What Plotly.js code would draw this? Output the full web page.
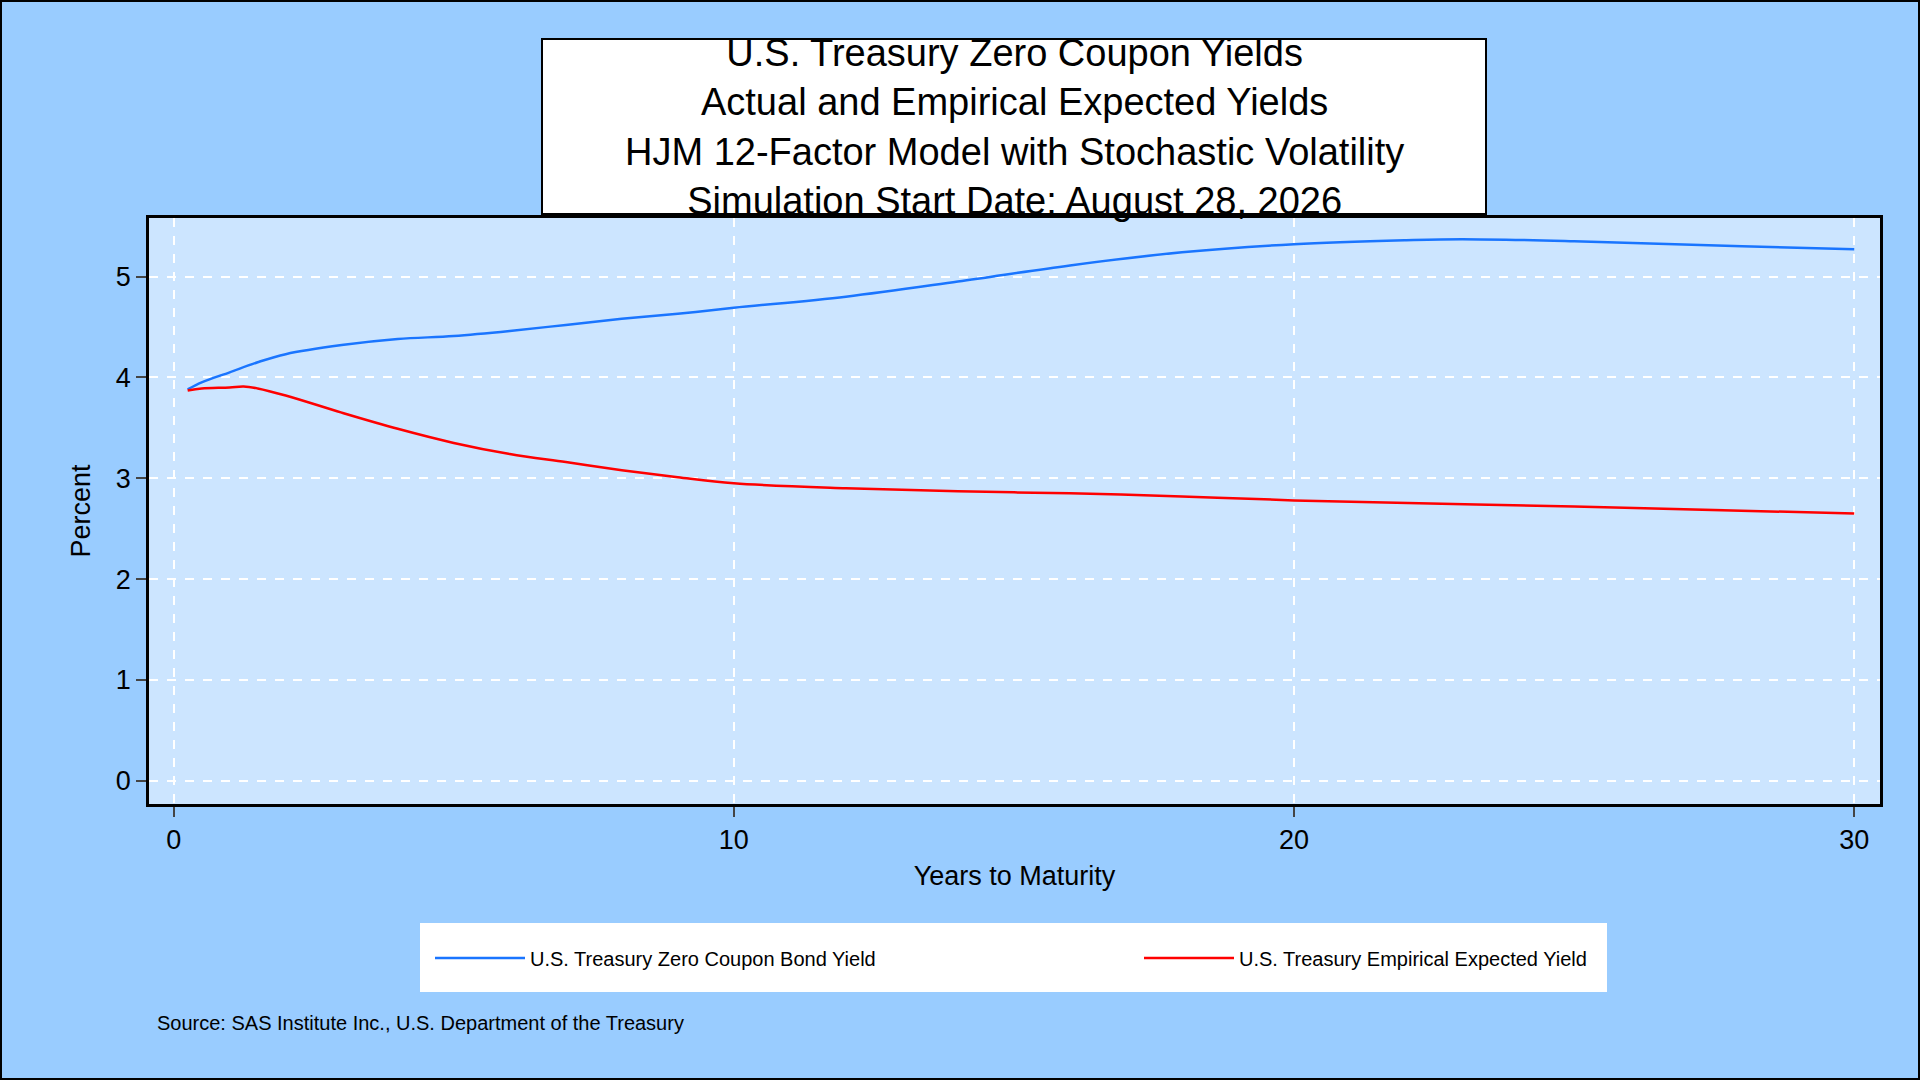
<!DOCTYPE html>
<html>
<head>
<meta charset="utf-8">
<script src="https://cdn.plot.ly/plotly-3.0.1.min.js"></script>
<style>
  html, body { margin: 0; padding: 0; background: #99ccff; }
  #chart { width: 1920px; height: 1080px; box-sizing: border-box; border: 2px solid #000; }
</style>
</head>
<body>
<div id="chart"></div>
<script>
// Years to maturity and yields
const zcbYears = [0.25, 0.5, 1, 1.5, 2, 3, 4, 5, 6, 7, 8, 9, 10, 12, 14, 16, 18, 20, 22, 23, 25, 28, 30];
const zcbYield = [3.88, 3.95, 4.05, 4.15, 4.23, 4.32, 4.38, 4.41, 4.46, 4.52, 4.58, 4.63, 4.69, 4.80, 4.95, 5.11, 5.24, 5.32, 5.36, 5.37, 5.35, 5.30, 5.27];

const expYears = [0.25, 0.5, 1, 1.25, 1.5, 2, 3, 4, 5, 6, 7, 8, 9, 10, 12, 14, 16, 18, 20, 25, 30];
const expYield = [3.87, 3.89, 3.90, 3.91, 3.89, 3.82, 3.65, 3.49, 3.35, 3.24, 3.16, 3.08, 3.01, 2.95, 2.90, 2.87, 2.85, 2.82, 2.78, 2.72, 2.65];

const xTicks = [0, 10, 20, 30];
const yTicks = [0, 1, 2, 3, 4, 5];

const titleLines = [
  "U.S. Treasury Zero Coupon Yields",
  "Actual and Empirical Expected Yields",
  "HJM 12-Factor Model with Stochastic Volatility",
  "Simulation Start Date: August 28, 2026"
];
const sourceText = "Source: SAS Institute Inc., U.S. Department of the Treasury";

const font = "Liberation Sans, Arial, sans-serif";

// pixel -> paper helpers (plot area 149..1880 x, 218..804 y)
const L = 149, R = 1880, T = 218, B = 804;
const px = x => (x - L) / (R - L);
const py = y => (B - y) / (B - T);

const data = [
  { x: zcbYears, y: zcbYield, type: 'scatter', mode: 'lines', line: { color: '#1a75ff', width: 2.5, shape: 'spline' },
    name: 'U.S. Treasury Zero Coupon Bond Yield' },
  { x: expYears, y: expYield, type: 'scatter', mode: 'lines', line: { color: '#ff0000', width: 2.5, shape: 'spline' },
    name: 'U.S. Treasury Empirical Expected Yield' }
];

const layout = {
  width: 1916, height: 1076,
  paper_bgcolor: '#99ccff',
  plot_bgcolor: '#cce5ff',
  margin: { l: L - 2, r: 1920 - R - 2, t: T - 2, b: 1080 - B - 2 },
  font: { family: font, color: '#000' },
  showlegend: true,
  legend: {
    orientation: 'h', x: px(430), y: py(958), xanchor: 'left', yanchor: 'middle',
    bgcolor: 'rgba(0,0,0,0)', font: { size: 20, family: font },
    entrywidth: 604, entrywidthmode: 'pixels', itemwidth: 90
  },
  xaxis: {
    range: [-0.44, 30.46], tickvals: xTicks, ticks: 'outside', ticklen: 10, tickwidth: 2,
    tickfont: { size: 27 }, showline: true, linewidth: 2.5, linecolor: '#000', mirror: true,
    showgrid: true, gridcolor: '#ffffff', griddash: 'dash', gridwidth: 2, zeroline: false,
    title: { text: 'Years to Maturity', font: { size: 27 }, standoff: 12 }
  },
  yaxis: {
    range: [-0.23, 5.58], tickvals: yTicks, ticks: 'outside', ticklen: 10, tickwidth: 2,
    tickfont: { size: 27 }, showline: true, linewidth: 2.5, linecolor: '#000', mirror: true,
    showgrid: true, gridcolor: '#ffffff', griddash: 'dash', gridwidth: 2, zeroline: false,
    title: { text: 'Percent', font: { size: 27 }, standoff: 18 }
  },
  shapes: [
    { type: 'rect', xref: 'paper', yref: 'paper', x0: px(542), x1: px(1486), y0: py(214), y1: py(39),
      fillcolor: '#ffffff', line: { color: '#000', width: 2 }, layer: 'below' },
    { type: 'rect', xref: 'paper', yref: 'paper', x0: px(420), x1: px(1607), y0: py(992), y1: py(923),
      fillcolor: '#ffffff', line: { width: 0 }, layer: 'below' }
  ],
  annotations: [
    { xref: 'paper', yref: 'paper', x: px(1014), y: py(127), xanchor: 'center', yanchor: 'middle',
      text: titleLines.join('<br>'), showarrow: false, font: { size: 38, family: font } },
    { xref: 'paper', yref: 'paper', x: px(155), y: py(1023), xanchor: 'left', yanchor: 'middle',
      text: sourceText, showarrow: false, font: { size: 20, family: font } }
  ]
};

Plotly.newPlot('chart', data, layout, { displayModeBar: false });
</script>
</body>
</html>
